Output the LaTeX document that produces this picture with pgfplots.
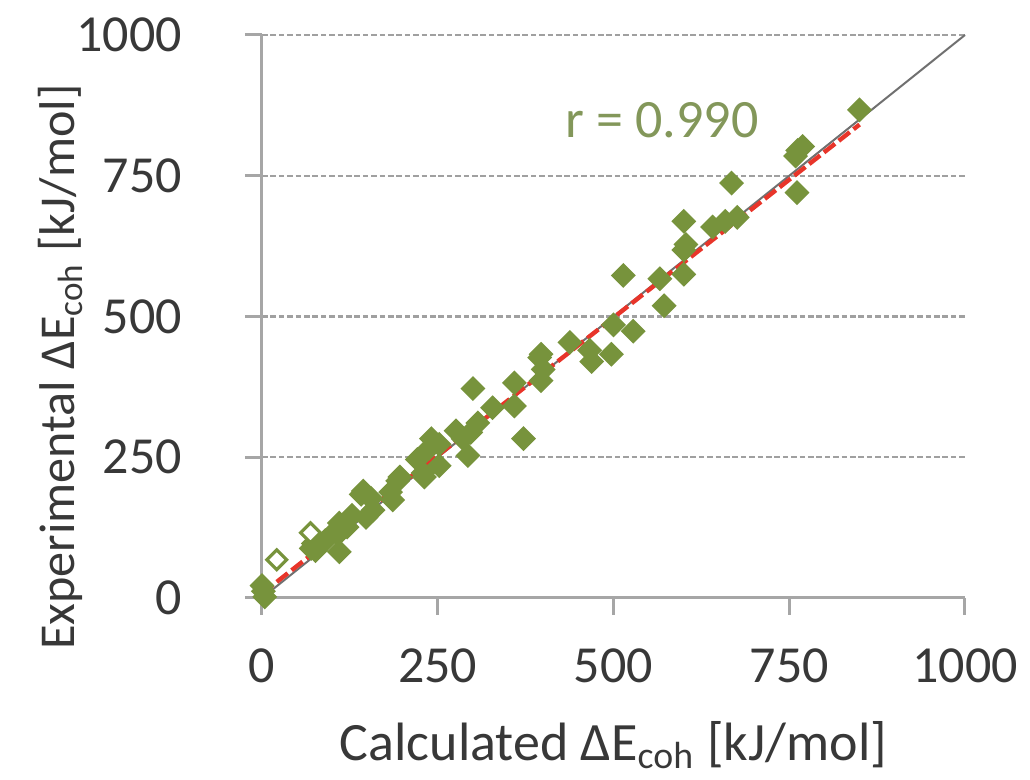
\documentclass[border=0pt]{standalone}
\usepackage{pgfplots}
\pgfplotsset{compat=1.18}
\usepackage{fontspec}
\setmainfont{Carlito}
\definecolor{txt}{HTML}{383838}
\definecolor{olivegr}{HTML}{77933C}
\definecolor{rtxt}{HTML}{83975A}
\definecolor{gridc}{HTML}{A0A0A0}
\definecolor{axc}{HTML}{A6A6A6}
\definecolor{trend}{HTML}{E8352A}
\definecolor{diag}{HTML}{707070}
\begin{document}
\begin{tikzpicture}
\begin{axis}[
  scale only axis,
  width=175.75pt, height=140.75pt,
  xmin=0, xmax=1000, ymin=0, ymax=1000,
  xtick={0,250,500,750,1000}, ytick={0,250,500,750,1000},
  axis x line*=bottom, axis y line*=left,
  axis line style={axc, line width=0.75pt},
  tick align=outside, major tick length=4.25pt,
  tick style={axc, line width=0.75pt},
  ymajorgrids,
  major grid style={gridc, dash pattern=on 1.4pt off 0.7pt, line width=0.6pt},
  /pgf/number format/assume math mode=true,
  /pgf/number format/1000 sep={},
  ticklabel style={font=\fontsize{13}{15}\selectfont, text=txt},
  yticklabel style={xshift=-12.25pt},
  xticklabel style={yshift=-5pt},
  xlabel={Calculated ΔE\textsubscript{coh} [kJ/mol]},
  ylabel={Experimental ΔE\textsubscript{coh} [kJ/mol]},
  xlabel style={font=\fontsize{13.5}{16}\selectfont, text=txt, at={(axis description cs:0.5,-0.2878)}, anchor=base},
  ylabel style={font=\fontsize{12.55}{15}\selectfont, text=txt, at={(axis description cs:-0.2660,0.41)}, anchor=base},
  clip=false,
]
\coordinate (SW) at (rel axis cs:0,0);
\addplot[only marks, mark=square*, mark size=2pt, mark options={rotate=45, fill=olivegr, draw=olivegr}] coordinates {
(0,22) (2,12) (4,2) (70,88) (76,84) (73,97) (90,102) (106,121) (108,113) (110,133) (110,82)
(121,126) (128,147) (141,184) (144,190) (148,143) (155,177) (158,156) (183,188) (186,174)
(193,208) (196,215) (221,246) (229,222) (231,215) (238,266) (241,283) (252,273) (252,235)
(276,297) (286,283) (293,253) (297,294) (300,372) (307,311) (328,338) (359,341) (359,382)
(372,283) (395,427) (397,433) (400,406) (397,386) (438,454) (466,440) (469,420) (497,433)
(500,485) (528,474) (514,573) (566,567) (572,519) (600,575) (600,618) (603,628) (600,669)
(641,659) (659,669) (676,676) (668,737) (761,720) (759,785) (762,795) (769,802) (850,867)
};
\addplot[only marks, mark=square*, mark size=1.75pt, mark options={rotate=45, fill=white, draw=olivegr, line width=0.8pt}] coordinates {
(21,68) (69,116)
};
\addplot[diag, line width=0.5pt] coordinates {(0,0) (1000,1000)};
\addplot[trend, line width=1.1pt, dash pattern=on 3.5pt off 1.2pt] coordinates {(0,8) (850,841)};
\node[text=rtxt, font=\fontsize{13.5}{16}\selectfont] at (axis cs:569,849) {r = 0.990};
\end{axis}
\pgfresetboundingbox
\path[use as bounding box] (SW) ++(-65.5pt,-45.5pt) rectangle ++(257.5pt,195pt);
\end{tikzpicture}
\end{document}
